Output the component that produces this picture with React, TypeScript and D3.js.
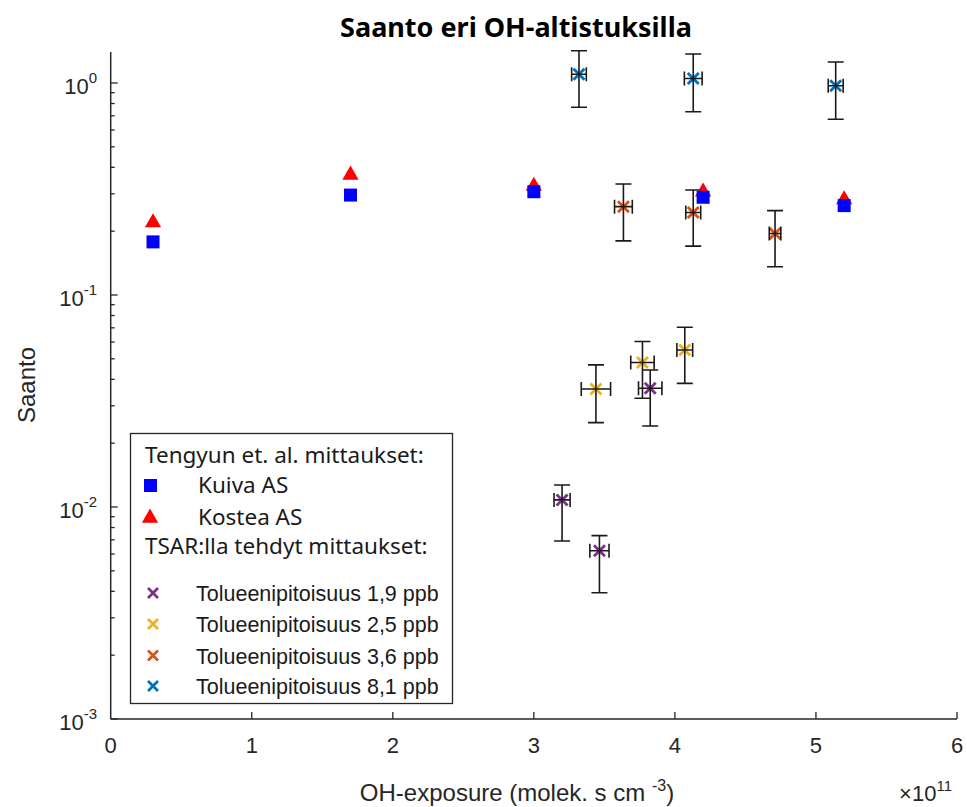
import * as d3 from "d3";
import { useRef, useEffect } from "react";

// --- data
const tengyunX = [0.3, 1.7, 3.0, 4.2, 5.2];
const kuivaY = [0.178, 0.296, 0.307, 0.289, 0.264];
const kosteaY = [0.222, 0.372, 0.33, 0.31, 0.285];

const seriesNames = [
  "Tolueenipitoisuus 1,9 ppb",
  "Tolueenipitoisuus 2,5 ppb",
  "Tolueenipitoisuus 3,6 ppb",
  "Tolueenipitoisuus 8,1 ppb",
];
const seriesColors = ["#7E2F8E", "#EDB120", "#D95319", "#0072BD"];

const tsarX = [
  [3.2, 3.465, 3.825],
  [3.44, 3.77, 4.07],
  [3.635, 4.13, 4.71],
  [3.32, 4.13, 5.14],
];
const tsarXErr = [
  [0.057, 0.068, 0.083],
  [0.104, 0.083, 0.056],
  [0.063, 0.053, 0.041],
  [0.052, 0.063, 0.053],
];
const tsarY = [
  [0.0108, 0.00622, 0.0363],
  [0.036, 0.048, 0.055],
  [0.261, 0.245, 0.195],
  [1.1, 1.05, 0.971],
];
const tsarYLow = [
  [0.00691, 0.00394, 0.0241],
  [0.025, 0.0326, 0.0383],
  [0.18, 0.17, 0.136],
  [0.768, 0.732, 0.674],
];
const tsarYHigh = [
  [0.0127, 0.00733, 0.0443],
  [0.0468, 0.0603, 0.0704],
  [0.334, 0.313, 0.25],
  [1.42, 1.37, 1.256],
];

const xTicks = [0, 1, 2, 3, 4, 5, 6];
const yMajor = [1e-3, 1e-2, 1e-1, 1];
const yExponents = ["-3", "-2", "-1", "0"];

const App = () => {
  const container = useRef(null);

  useEffect(() => {
    let node = container.current;
    let W = 967;
    let H = 807;
    let margins = { l: 110.7, r: 10, t: 52, b: 88 };
    let axisColor = "#262626";
    let arial = "'Liberation Sans', Arial, sans-serif";
    let calibri = "'Noto Sans', 'Open Sans', sans-serif";

    let svg = d3
      .select(node)
      .selectAll("svg")
      .data([0])
      .join("svg")
      .attr("width", W)
      .attr("height", H)
      .style("position", "absolute")
      .style("left", 0)
      .style("top", 0)
      .style("background", "#fff");
    svg.selectAll("*").remove();

    let xScale = d3.scaleLinear().domain([0, 6]).range([margins.l, W - margins.r]);
    let yScale = d3.scaleLog().domain([1e-3, 1.4]).range([H - margins.b, margins.t]);
    let y0 = H - margins.b;

    // title
    svg
      .append("text")
      .attr("x", 516)
      .attr("y", 37)
      .attr("text-anchor", "middle")
      .style("font-family", calibri)
      .style("font-weight", 700)
      .style("font-size", "27px")
      .text("Saanto eri OH-altistuksilla");

    // axes
    let axg = svg.append("g");
    axg
      .append("line")
      .attr("x1", margins.l)
      .attr("x2", margins.l)
      .attr("y1", margins.t)
      .attr("y2", y0)
      .attr("stroke", axisColor)
      .attr("stroke-width", 1.5);
    axg
      .append("line")
      .attr("x1", margins.l)
      .attr("x2", xScale(6))
      .attr("y1", y0)
      .attr("y2", y0)
      .attr("stroke", axisColor)
      .attr("stroke-width", 1.5);

    // y ticks: majors + minors (log)
    let minors = [];
    yMajor.slice(0, 3).forEach((d) => {
      for (let k = 2; k <= 9; k++) minors.push(d * k);
    });
    axg
      .selectAll(".ymin")
      .data(minors.filter((v) => v <= 1.4))
      .join("line")
      .attr("x1", margins.l)
      .attr("x2", margins.l + 4)
      .attr("y1", (d) => yScale(d))
      .attr("y2", (d) => yScale(d))
      .attr("stroke", axisColor)
      .attr("stroke-width", 1.3);
    axg
      .selectAll(".ymaj")
      .data(yMajor)
      .join("line")
      .attr("x1", margins.l)
      .attr("x2", margins.l + 7)
      .attr("y1", (d) => yScale(d))
      .attr("y2", (d) => yScale(d))
      .attr("stroke", axisColor)
      .attr("stroke-width", 1.3);

    let ylab = axg
      .selectAll(".ylab")
      .data(yMajor)
      .join("text")
      .attr("x", 97)
      .attr("y", (d) => yScale(d) + 11)
      .attr("text-anchor", "end")
      .style("font-family", arial)
      .style("font-size", "22px")
      .attr("fill", axisColor);
    ylab.append("tspan").text("10");
    ylab
      .append("tspan")
      .attr("dy", -11)
      .style("font-size", "15px")
      .text((d, i) => yExponents[i]);

    // x ticks
    axg
      .selectAll(".xtick")
      .data(xTicks.slice(1))
      .join("line")
      .attr("x1", (d) => xScale(d))
      .attr("x2", (d) => xScale(d))
      .attr("y1", y0)
      .attr("y2", y0 - 7)
      .attr("stroke", axisColor)
      .attr("stroke-width", 1.3);
    axg
      .selectAll(".xlab")
      .data(xTicks)
      .join("text")
      .attr("x", (d) => xScale(d))
      .attr("y", y0 + 34)
      .attr("text-anchor", "middle")
      .style("font-family", arial)
      .style("font-size", "22px")
      .attr("fill", axisColor)
      .text((d) => d);

    // axis titles
    let xt = svg
      .append("text")
      .attr("x", 517)
      .attr("y", 801)
      .attr("text-anchor", "middle")
      .style("font-family", arial)
      .style("font-size", "24px")
      .attr("fill", axisColor);
    xt.append("tspan").text("OH-exposure (molek. s cm ");
    xt.append("tspan").attr("dy", -10).style("font-size", "16px").text("-3");
    xt.append("tspan").attr("dy", 10).text(")");

    let mult = svg
      .append("text")
      .attr("x", 952)
      .attr("y", 801)
      .attr("text-anchor", "end")
      .style("font-family", arial)
      .style("font-size", "22px")
      .attr("fill", axisColor);
    mult.append("tspan").text("\u00d710");
    mult.append("tspan").attr("dy", -10).style("font-size", "15px").text("11");

    svg
      .append("text")
      .attr("transform", `translate(35,385)rotate(-90)`)
      .attr("text-anchor", "middle")
      .style("font-family", arial)
      .style("font-size", "24px")
      .attr("fill", axisColor)
      .text("Saanto");

    // --- TSAR series: error bars and x markers
    let xMark = (g, cx, cy, r, col) => {
      g.append("path")
        .attr("d", `M${cx - r},${cy - r}L${cx + r},${cy + r}M${cx - r},${cy + r}L${cx + r},${cy - r}`)
        .attr("stroke", col)
        .attr("stroke-width", 2.8)
        .attr("fill", "none");
    };

    let tsarg = svg.append("g");
    seriesNames.forEach((name, s) => {
      tsarX[s].forEach((xv, i) => {
        let cx = xScale(xv);
        let cy = yScale(tsarY[s][i]);
        let yl = yScale(tsarYLow[s][i]);
        let yh = yScale(tsarYHigh[s][i]);
        let xl = xScale(xv - tsarXErr[s][i]);
        let xh = xScale(xv + tsarXErr[s][i]);
        let g = tsarg.append("g");
        xMark(g, cx, cy, 5.5, seriesColors[s]);
        let eb = `M${cx},${yh}L${cx},${yl}M${cx - 8},${yh}L${cx + 8},${yh}M${cx - 8},${yl}L${cx + 8},${yl}` +
          `M${xl},${cy}L${xh},${cy}M${xl},${cy - 7}L${xl},${cy + 7}M${xh},${cy - 7}L${xh},${cy + 7}`;
        g.append("path")
          .attr("d", eb)
          .attr("stroke", "#1a1a1a")
          .attr("stroke-width", 1.6)
          .attr("fill", "none");
      });
    });

    // --- Tengyun markers
    let tri = d3.symbol().type(d3.symbolTriangle).size(115);
    let tg = svg.append("g");
    tg.selectAll(".kostea")
      .data(tengyunX)
      .join("path")
      .attr("d", tri)
      .attr("transform", (d, i) => `translate(${xScale(d)},${yScale(kosteaY[i]) + 1})`)
      .attr("fill", "#FF0000");
    tg.selectAll(".kuiva")
      .data(tengyunX)
      .join("rect")
      .attr("x", (d) => xScale(d) - 6.5)
      .attr("y", (d, i) => yScale(kuivaY[i]) - 6.5)
      .attr("width", 13)
      .attr("height", 13)
      .attr("fill", "#0000FF");

    // --- legend
    let lg = svg.append("g");
    lg.append("rect")
      .attr("x", 130.5)
      .attr("y", 433.5)
      .attr("width", 322)
      .attr("height", 270)
      .attr("fill", "#fff")
      .attr("stroke", axisColor)
      .attr("stroke-width", 1.3);

    let hdr = [
      ["Tengyun et. al. mittaukset:", 455],
      ["TSAR:lla tehdyt mittaukset:", 546],
    ];
    lg.selectAll(".hdr")
      .data(hdr)
      .join("text")
      .attr("x", 145)
      .attr("y", (d) => d[1] + 8)
      .style("font-family", calibri)
      .style("font-size", "22.5px")
      .attr("fill", "#1a1a1a")
      .text((d) => d[0]);

    lg.append("rect").attr("x", 144).attr("y", 479).attr("width", 13).attr("height", 13).attr("fill", "#0000FF");
    lg.append("path").attr("d", tri).attr("transform", "translate(150,518)").attr("fill", "#FF0000");
    lg.selectAll(".tg")
      .data([["Kuiva AS", 485], ["Kostea AS", 517]])
      .join("text")
      .attr("x", 198)
      .attr("y", (d) => d[1] + 8)
      .style("font-family", calibri)
      .style("font-size", "22.5px")
      .attr("fill", "#1a1a1a")
      .text((d) => d[0]);

    let legY = [593, 624, 655.5, 686];
    seriesNames.forEach((name, s) => {
      xMark(lg, 153, legY[s], 5, seriesColors[s]);
      lg.append("text")
        .attr("x", 196)
        .attr("y", legY[s] + 8)
        .style("font-family", arial)
        .style("font-size", "21.5px")
        .attr("fill", "#1a1a1a")
        .text(name);
    });
  });

  return <div ref={container} style={{ width: 967, height: 807 }}></div>;
};

export default App;
